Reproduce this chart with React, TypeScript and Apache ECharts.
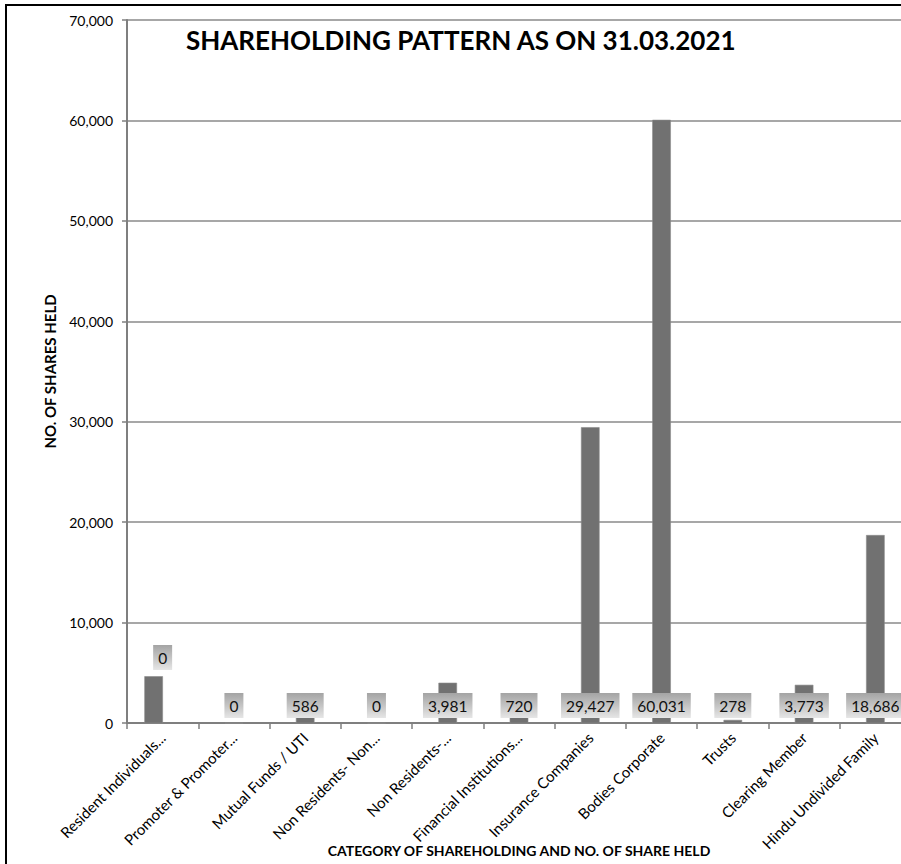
import React, { useEffect, useRef } from 'react';
import * as echarts from 'echarts';

const categories = [
  'Resident Individuals...',
  'Promoter & Promoter...',
  'Mutual Funds / UTI',
  'Non Residents- Non...',
  'Non Residents-...',
  'Financial Institutions...',
  'Insurance Companies',
  'Bodies Corporate',
  'Trusts',
  'Clearing Member',
  'Hindu Undivided Family',
];

const sharesHeld = [4630, 0, 586, 0, 3981, 720, 29427, 60031, 278, 3773, 18686];

const labelTexts = ['0', '0', '586', '0', '3,981', '720', '29,427', '60,031', '278', '3,773', '18,686'];

const titleText = 'SHAREHOLDING PATTERN AS ON 31.03.2021';
const xAxisName = 'CATEGORY OF SHAREHOLDING AND NO. OF SHARE HELD';
const yAxisName = 'NO. OF SHARES HELD';

const FONT = 'Lato, "Open Sans", "DejaVu Sans", sans-serif';

function fmt(v: number): string {
  return String(v).replace(/\B(?=(\d{3})+(?!\d))/g, ',');
}

export default function App() {
  const ref = useRef<HTMLDivElement>(null);
  useEffect(() => {
    if (!ref.current) return;
    const chart = echarts.init(ref.current, null, { renderer: 'svg' });
    const labelBg = new echarts.graphic.LinearGradient(0, 0, 0, 1, [
      { offset: 0, color: '#a4a4a4' },
      { offset: 0.5, color: '#c4c4c4' },
      { offset: 1, color: '#e6e6e6' },
    ]);
    chart.setOption({
      animation: false,
      backgroundColor: '#ffffff',
      title: {
        text: titleText,
        left: 181,
        top: 22,
        textStyle: { fontFamily: FONT, fontWeight: 'bold', fontSize: 26, color: '#000' },
      },
      grid: { left: 127, right: -10, top: 20, bottom: 141, containLabel: false, outerBoundsMode: 'none' },
      xAxis: {
        type: 'category',
        data: categories,
        name: xAxisName,
        nameLocation: 'middle',
        nameGap: 120,
        nameMoveOverlap: false,
        nameTextStyle: { fontFamily: FONT, fontWeight: 'bold', fontSize: 14, color: '#000', verticalAlign: 'top' },
        axisLine: { show: true, lineStyle: { color: '#7f7f7f', width: 2 } },
        axisTick: { show: true, length: 6, lineStyle: { color: '#7f7f7f', width: 1.5 } },
        axisLabel: { rotate: 45, interval: 0, margin: 12, fontSize: 15, color: '#000', fontFamily: FONT },
        splitLine: { show: false },
      },
      yAxis: {
        type: 'value',
        min: 0,
        max: 70000,
        interval: 10000,
        name: yAxisName,
        nameLocation: 'middle',
        nameGap: 70,
        nameTextStyle: { fontFamily: FONT, fontWeight: 'bold', fontSize: 15, color: '#000' },
        axisLine: { show: true, lineStyle: { color: '#7f7f7f', width: 2 } },
        axisTick: { show: true, length: 5, lineStyle: { color: '#7f7f7f', width: 1.5 } },
        axisLabel: { formatter: (v: number) => fmt(v), margin: 14, fontSize: 14, color: '#000', fontFamily: FONT },
        splitLine: { show: true, lineStyle: { color: '#8a8a8a', width: 1.5 } },
      },
      series: [
        {
          type: 'custom',
          data: sharesHeld.map((v, i) => [i, v]),
          encode: { x: 0, y: 1 },
          z: 3,
          renderItem: (params: any, api: any) => {
            const i = api.value(0) as number;
            const v = api.value(1) as number;
            const top = api.coord([i, v]);
            const base = api.coord([i, 0]);
            const barW = 18;
            const first = i === 0;
            const bx = top[0] - barW / 2 + (first ? -9 : 0);
            const txt = labelTexts[i];
            const ly = base[1] - 5 - (first ? 48 : 0);
            return {
              type: 'group',
              children: [
                {
                  type: 'rect',
                  shape: { x: bx, y: top[1], width: barW, height: Math.max(base[1] - top[1], 0.5) },
                  style: { fill: '#717171', stroke: '#8c8c8c', lineWidth: 0.6 },
                },
                {
                  type: 'text',
                  x: base[0],
                  y: ly,
                  z2: 10,
                  style: {
                    text: txt,
                    align: 'center',
                    verticalAlign: 'bottom',
                    fill: '#111',
                    fontFamily: FONT,
                    fontSize: 15.5,
                    backgroundColor: labelBg,
                    padding: [5, 5, 4, 5],
                  },
                },
              ],
            };
          },
        },
      ],
      graphic: [
        {
          type: 'rect',
          silent: true,
          z: 100,
          shape: { x: 6, y: 5, width: 1000, height: 1000 },
          style: { fill: 'none', stroke: '#000', lineWidth: 2 },
        },
      ],
    });
    return () => chart.dispose();
  }, []);
  return (
    <div style={{ position: 'fixed', left: 0, top: 0, width: 901, height: 864, overflow: 'hidden', background: '#fff' }}>
      <div ref={ref} style={{ width: 901, height: 864 }} />
    </div>
  );
}
